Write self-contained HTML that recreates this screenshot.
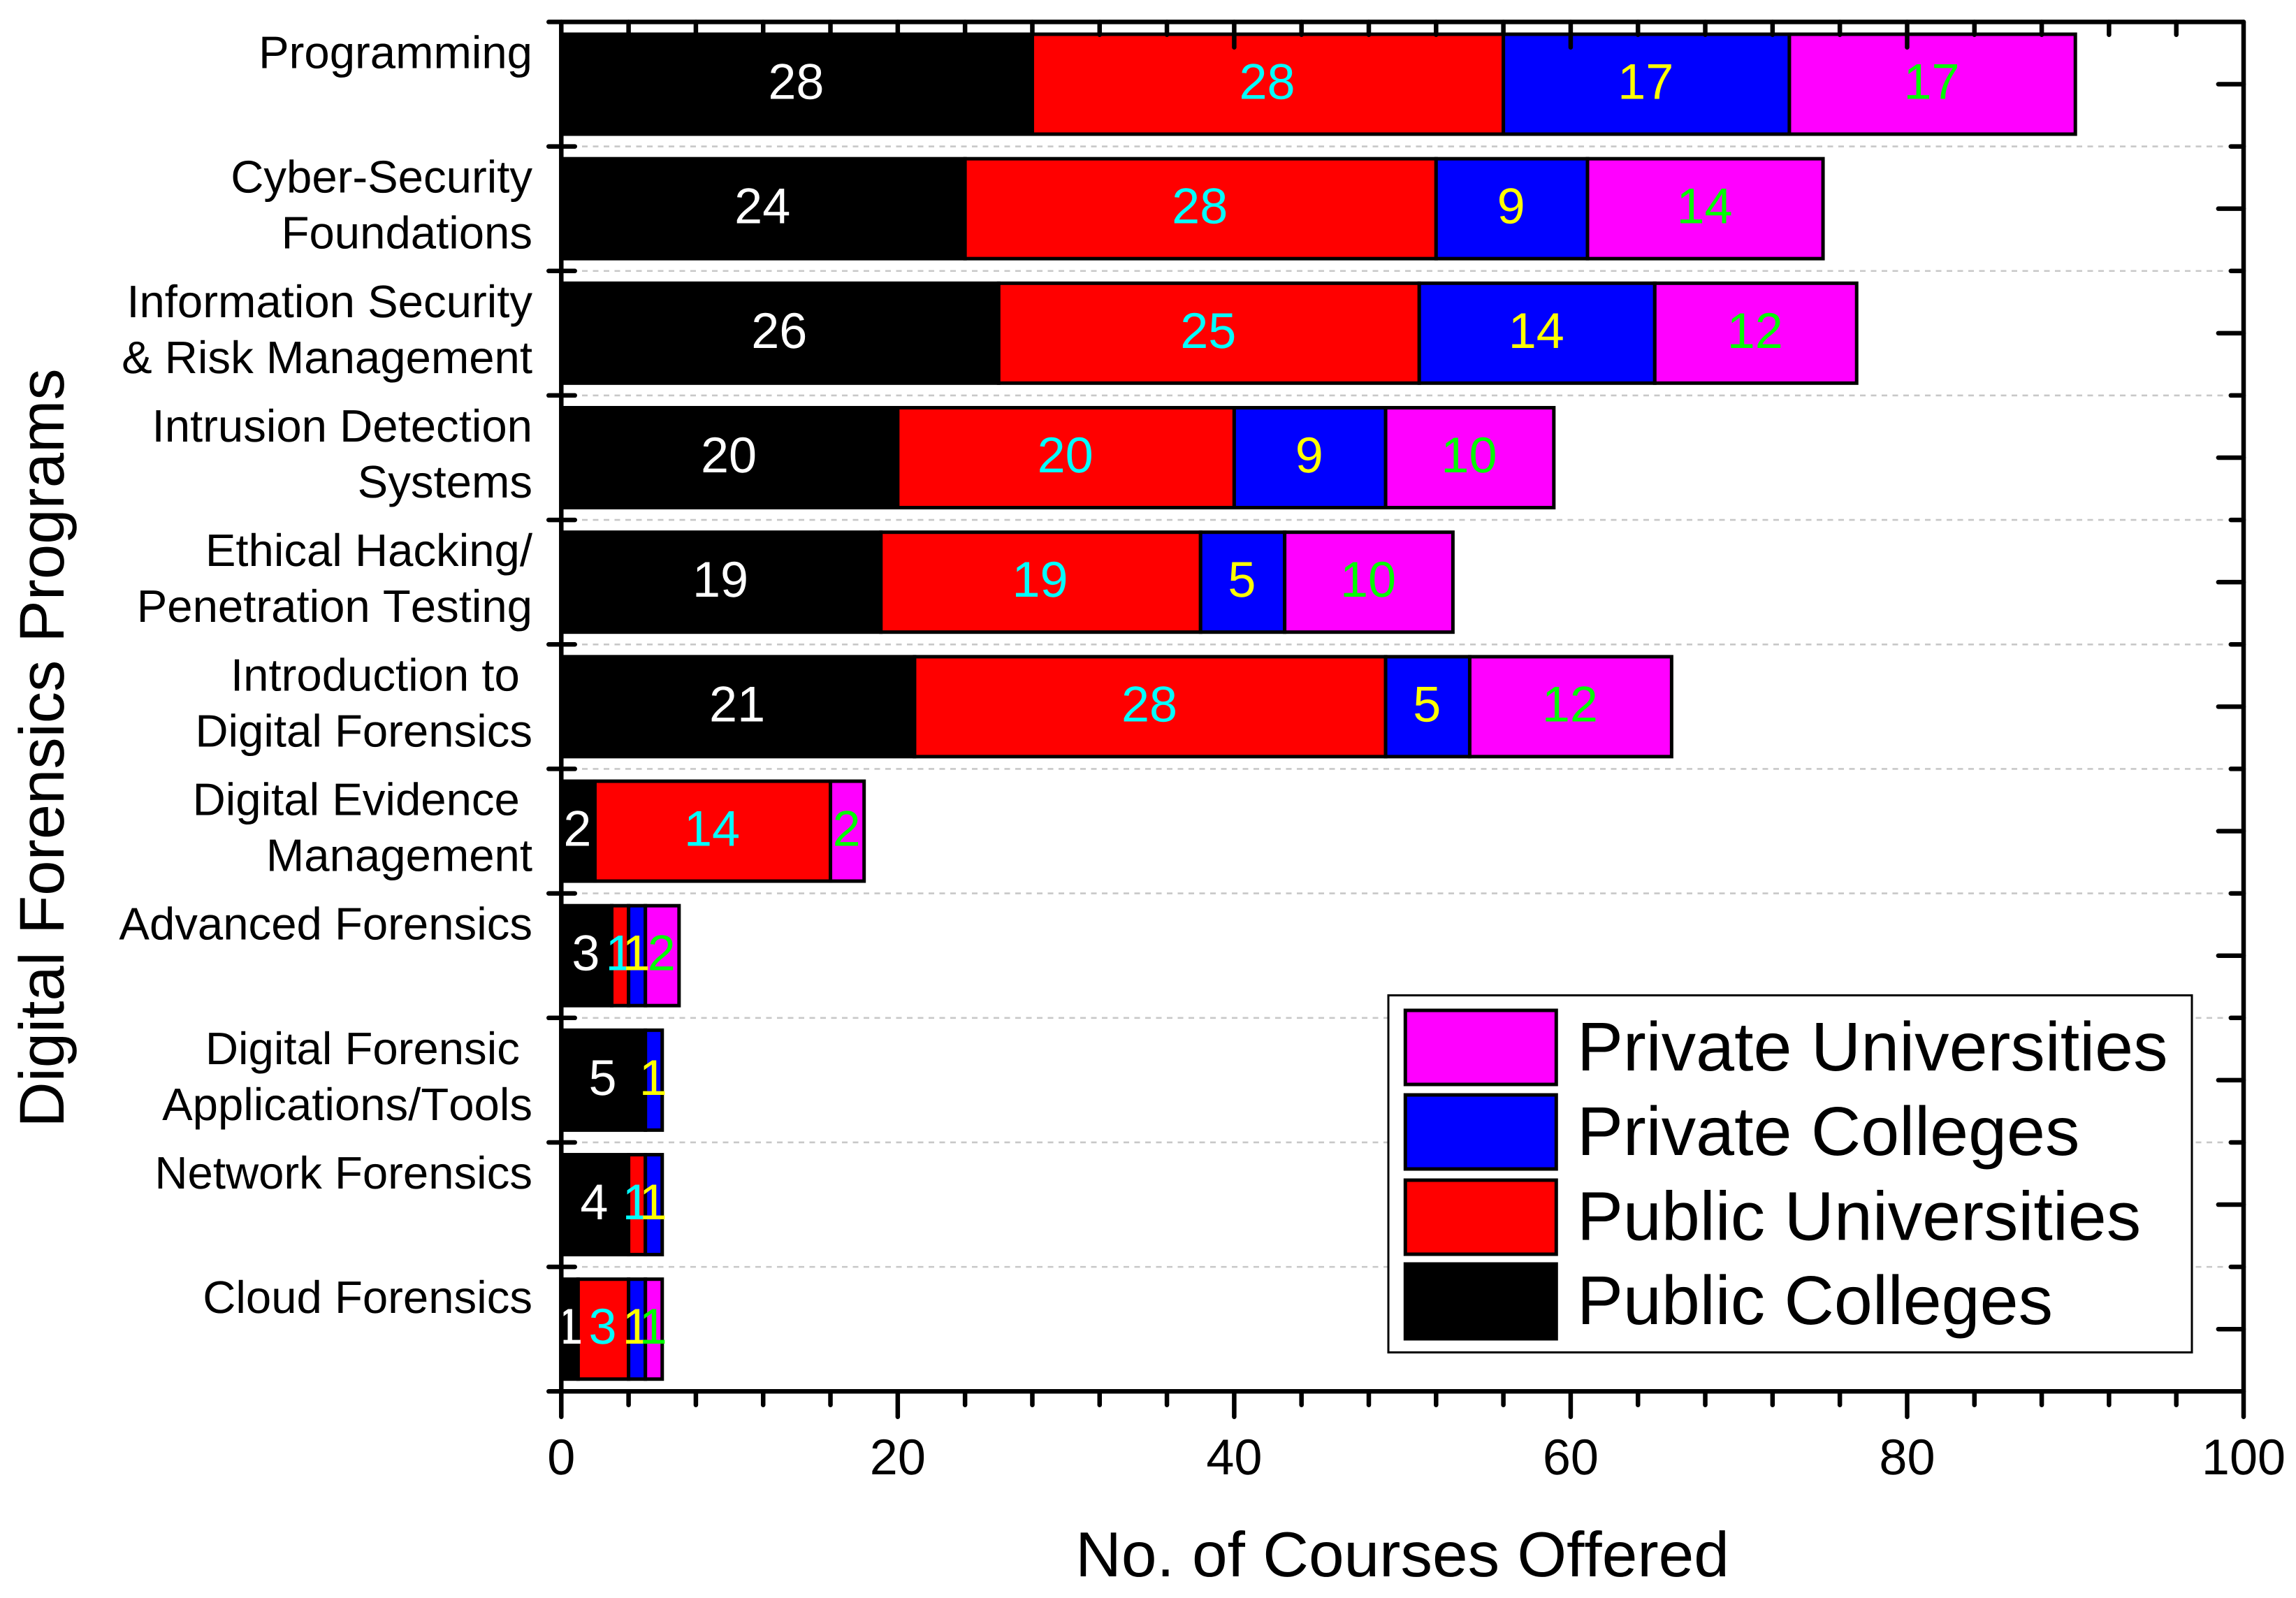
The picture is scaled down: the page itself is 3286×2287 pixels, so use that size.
<!DOCTYPE html>
<html lang="en">
<head>
<meta charset="utf-8">
<title>Digital Forensics Programs - Courses Offered</title>
<style>
  html, body { margin: 0; padding: 0; background: #fff; }
  svg { display: block; }
  text { font-family: "Liberation Sans", Arial, sans-serif; text-rendering: geometricPrecision; white-space: pre; font-kerning: none; }
</style>
</head>
<body>
<svg id="chart" xmlns="http://www.w3.org/2000/svg" width="3286" height="2287" viewBox="0 0 3286 2287">
  <rect x="0" y="0" width="3286" height="2287" fill="#ffffff"/>
  <g id="grid"></g>
  <g id="bars"></g>
  <g id="values"></g>
  <g id="axes"></g>
  <g id="cats"></g>
  <g id="xlabels"></g>
  <text x="2007" y="2256" font-size="91" text-anchor="middle" fill="#000">No. of Courses Offered</text>
  <text transform="translate(91,1070.5) rotate(-90)" font-size="90.5" text-anchor="middle" fill="#000">Digital Forensics Programs</text>
  <g>
    <rect x="1987" y="1424.5" width="1150" height="511" fill="#fff" stroke="#000" stroke-width="3"/>
    <rect x="2011.3" y="1446" width="216" height="106" fill="#ff00ff" stroke="#000" stroke-width="5"/>
    <text x="2257" y="1532" font-size="98.8" fill="#000">Private Universities</text>
    <rect x="2011.3" y="1567" width="216" height="106" fill="#0000ff" stroke="#000" stroke-width="5"/>
    <text x="2257" y="1653" font-size="98.8" fill="#000">Private Colleges</text>
    <rect x="2011.3" y="1689" width="216" height="106" fill="#ff0000" stroke="#000" stroke-width="5"/>
    <text x="2257" y="1774.5" font-size="98.8" fill="#000">Public Universities</text>
    <rect x="2011.3" y="1809" width="216" height="107" fill="#000000" stroke="#000" stroke-width="5"/>
    <text x="2257" y="1895" font-size="98.8" fill="#000">Public Colleges</text>
  </g>
</svg>
<script>
const categories = [
  ["Programming"],
  ["Cyber-Security", "Foundations"],
  ["Information Security", "& Risk Management"],
  ["Intrusion Detection", "Systems"],
  ["Ethical Hacking/", "Penetration Testing"],
  ["Introduction to ", "Digital Forensics"],
  ["Digital Evidence ", "Management"],
  ["Advanced Forensics"],
  ["Digital Forensic ", "Applications/Tools"],
  ["Network Forensics"],
  ["Cloud Forensics"]
];
const publicColleges     = [28, 24, 26, 20, 19, 21, 2, 3, 5, 4, 1];
const publicUniversities = [28, 28, 25, 20, 19, 28, 14, 1, 0, 1, 3];
const privateColleges    = [17, 9, 14, 9, 5, 5, 0, 1, 1, 1, 1];
const privateUniversities= [17, 14, 12, 10, 10, 12, 2, 2, 0, 0, 1];
const seriesNames = ["public-colleges", "public-universities", "private-colleges", "private-universities"];
const xMajorTicks = [0, 20, 40, 60, 80, 100];
const xMinorTicks = [4, 8, 12, 16, 24, 28, 32, 36, 44, 48, 52, 56, 64, 68, 72, 76, 84, 88, 92, 96];
const xTickLabels = ["0", "20", "40", "60", "80", "100"];

const SVGNS = "http://www.w3.org/2000/svg";
const series = [publicColleges, publicUniversities, privateColleges, privateUniversities];
const seriesFill = ["#000000", "#ff0000", "#0000ff", "#ff00ff"];
const seriesText = ["#ffffff", "#00ffff", "#ffff00", "#00ff00"];

const plotLeft = 803.3, plotRight = 3211, plotTop = 31.4, plotBottom = 1991.3;
const xMax = 100;
function xScale(v) { return plotLeft + (plotRight - plotLeft) * v / xMax; }
function bandTop(i) { return plotTop + (plotBottom - plotTop) * i / categories.length; }
function bandCenter(i) { return bandTop(i + 0.5); }

function make(tag, attrs, text) {
  const el = document.createElementNS(SVGNS, tag);
  for (const k in attrs) el.setAttribute(k, attrs[k]);
  if (text !== undefined) el.textContent = text;
  return el;
}
function axisLine(x1, y1, x2, y2, width) {
  return make("line", { x1: x1, y1: y1, x2: x2, y2: y2, stroke: "#000", "stroke-width": width, "stroke-linecap": "round" });
}

const gridG = document.getElementById("grid");
const barsG = document.getElementById("bars");
const valuesG = document.getElementById("values");
const axesG = document.getElementById("axes");
const catsG = document.getElementById("cats");
const xlabG = document.getElementById("xlabels");

const barHeight = 143;
const tickW = 6.5, capR = 3.25;

/* gridlines at category boundaries */
for (let i = 1; i < categories.length; i++) {
  const y = bandTop(i);
  const g = make("line", { x1: 833, y1: y, x2: 3184, y2: y, stroke: "#c8c8c8", "stroke-width": 2.6, "stroke-dasharray": "8 7.5" });
  
  
  gridG.appendChild(g);
}

/* stacked bars and value labels */
categories.forEach(function (cat, i) {
  let acc = 0;
  series.forEach(function (vals, s) {
    const v = vals[i];
    if (v > 0) {
      const x0 = xScale(acc), x1 = xScale(acc + v);
      const r = make("rect", { x: x0, y: bandCenter(i) - barHeight / 2, width: x1 - x0, height: barHeight, fill: seriesFill[s], stroke: "#000", "stroke-width": 5 });
      
      
      barsG.appendChild(r);
      const t = make("text", { x: (x0 + x1) / 2 - 1, y: bandCenter(i) + 21, "font-size": 72, "text-anchor": "middle", fill: seriesText[s] }, String(v));
      
      
      valuesG.appendChild(t);
    }
    acc += v;
  });
});

/* frame */
const frame = [
  [plotLeft, plotTop, plotLeft, 2031 - capR, "left-axis"],
  [plotRight, plotTop, plotRight, 2031 - capR, "right-axis"],
  [782 + capR, plotTop, plotRight, plotTop, "top-axis"],
  [782 + capR, plotBottom, plotRight, plotBottom, "bottom-axis"]
];
frame.forEach(function (f) {
  const l = axisLine(f[0], f[1], f[2], f[3], tickW);
  
  
  axesG.appendChild(l);
});

/* x ticks: bottom outward, top inward */
xMajorTicks.forEach(function (v, k) {
  const x = xScale(v);
  if (v > 0 && v < xMax) {
    const b = axisLine(x, plotBottom, x, 2031 - capR, tickW);
    
    
    axesG.appendChild(b);
    const t = axisLine(x, plotTop, x, 71 - capR, tickW);
    
    
    axesG.appendChild(t);
  }
  const lab = make("text", { x: x, y: 2110, "font-size": 72, "text-anchor": "middle", fill: "#000" }, xTickLabels[k]);
  
  
  xlabG.appendChild(lab);
});
xMinorTicks.forEach(function (v) {
  const x = xScale(v);
  const b = axisLine(x, plotBottom, x, 2014 - capR, tickW);
  
  
  axesG.appendChild(b);
  const t = axisLine(x, plotTop, x, 53 - capR, tickW);
  
  
  axesG.appendChild(t);
});

/* y ticks */
for (let i = 1; i < categories.length; i++) {
  const y = bandTop(i);
  const l = axisLine(782 + capR, y, 826 - capR, y, tickW);
  
  
  axesG.appendChild(l);
  const r = axisLine(3189.5 + capR, y, plotRight, y, tickW);
  
  
  axesG.appendChild(r);
}
categories.forEach(function (cat, i) {
  const y = bandCenter(i);
  const r = axisLine(3171.6 + capR, y, plotRight, y, tickW);
  
  
  axesG.appendChild(r);
});

/* category labels */
categories.forEach(function (lines, i) {
  lines.forEach(function (line, n) {
    const t = make("text", { x: 762, y: bandCenter(i) - 23 + n * 80, "font-size": 65.3, "text-anchor": "end", fill: "#000" }, line);
    
    
    catsG.appendChild(t);
  });
});
</script>
</body>
</html>
